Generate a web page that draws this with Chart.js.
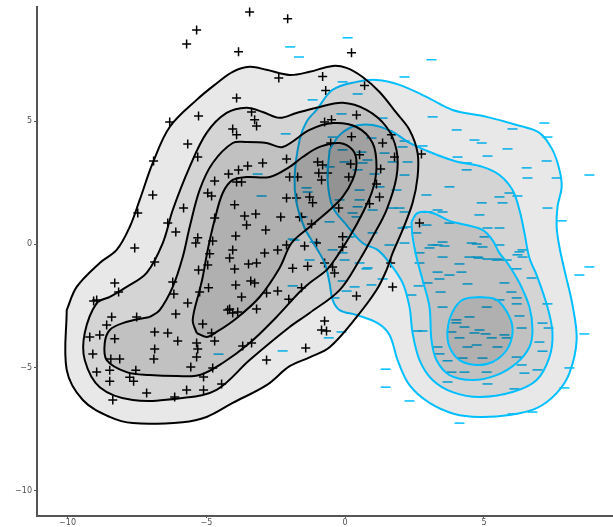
<!DOCTYPE html>
<html>
<head>
<meta charset="utf-8">
<script src="https://cdn.jsdelivr.net/npm/chart.js@4.4.1/dist/chart.umd.min.js"></script>
<style>
  html, body { margin: 0; padding: 0; background: #fff; }
  canvas { display: block; }
</style>
</head>
<body>
<canvas id="density-chart" width="613" height="527"></canvas>
<script>
// tick values
const xTicks = [-10, -5, 0, 5];
const yTicks = [-10, -5, 0, 5];

// "+" group points
const plusPoints = [
    [-3.44,9.43],[-2.07,9.15],[-5.35,8.70],[-5.71,8.13],[-3.84,7.81],[-2.39,6.75],[-3.91,5.94],[-3.37,5.37],[-3.26,5.05],[-3.19,4.80],
    [-6.32,4.96],[-5.28,5.21],[-4.05,4.68],[-3.91,4.44],[-5.67,4.07],[-5.31,3.54],[-6.90,3.38],[-2.11,3.46],[-2.97,3.30],[-3.51,3.18],
    [-3.84,3.01],[-4.20,2.85],[-3.91,2.53],[-3.73,2.53],[-4.70,2.57],[-4.95,2.08],[-4.81,1.96],[-2.00,2.73],[-1.71,2.73],[-2.11,1.88],
    [-1.75,1.88],[-6.93,2.00],[-5.82,1.47],[-3.98,1.60],[-7.47,1.27],[-4.70,1.07],[-3.62,1.15],[-3.22,1.23],[-2.32,1.11],[-1.64,1.11],
    [-3.55,0.78],[-2.86,0.58],[-6.39,0.86],[-6.10,0.50],[-5.31,0.26],[-3.94,0.34],[-4.77,0.13],[-5.38,0.05],[-7.58,-0.15],[-4.05,-0.23],
    [-4.16,-0.56],[-2.90,-0.35],[-2.43,-0.23],[-2.11,-0.03],[-1.46,-0.07],[-3.48,-0.80],[-3.19,-0.76],[-4.95,-0.84],[-4.88,-0.39],[-6.86,-0.72],
    [-1.35,-0.89],[-1.89,-0.97],
    [0.23,7.77],[-0.81,6.81],[-0.70,6.24],[0.70,6.44],[0.41,5.25],[-0.74,4.96],[-0.49,5.05],[1.67,4.44],[1.35,4.11],[-0.52,4.11],
    [0.23,4.36],[0.52,3.63],[0.20,3.26],[1.78,3.54],[1.28,3.05],[0.13,2.73],[-0.99,3.34],[-0.81,3.22],[-0.95,2.89],[-0.63,2.89],
    [-0.85,2.61],[1.13,2.45],[2.75,3.66],[1.24,1.92],[0.88,1.64],[-0.23,1.47],[-1.28,1.92],[-1.17,1.68],[-1.57,1.11],[-1.21,0.82],
    [-0.09,0.30],[-0.09,-0.11],[-1.03,0.05],[2.68,0.86],[1.64,-0.76],[-0.74,-0.76],[-0.45,-0.92],
    [-8.30,-1.57],[-8.16,-1.94],[-8.95,-2.26],[-9.06,-2.30],[-8.41,-2.95],[-7.51,-2.95],[-8.59,-3.28],[-9.20,-3.76],[-8.84,-3.68],[-8.30,-3.84],
    [-6.86,-3.56],[-6.39,-3.60],[-6.03,-3.93],[-5.35,-4.01],[-4.70,-3.93],[-6.86,-4.25],[-6.89,-4.66],[-5.31,-4.25],[-5.35,-4.58],[-9.09,-4.45],
    [-8.44,-4.66],[-8.12,-4.66],[-8.95,-5.19],[-8.48,-5.11],[-7.54,-5.11],[-7.76,-5.40],[-7.62,-5.56],[-8.48,-5.56],[-5.56,-4.98],[-5.10,-5.39],
    [-4.77,-5.02],[-7.15,-6.04],[-5.71,-5.92],[-5.10,-5.92],[-4.45,-5.67],[-8.37,-6.32],[-6.14,-6.20],[-6.10,-2.83],[-5.67,-2.38],[-6.21,-1.53],
    [-6.17,-2.02],[-5.24,-1.94],[-4.92,-1.77],[-5.28,-1.04],[-5.13,-3.24],[-4.81,-3.60],[-4.23,-2.67],[-4.05,-2.79],[-4.16,-2.63],[-3.87,-2.75],
    [-3.19,-2.63],[-3.73,-2.14],[-3.26,-1.57],[-3.40,-1.49],[-2.83,-1.98],[-2.43,-1.90],[-2.03,-2.23],[-1.57,-1.77],[-3.37,-4.01],[-3.69,-4.13],
    [-2.83,-4.70],[-1.42,-4.21],[-3.94,-1.65],[-3.98,-1.00],[-0.38,-1.17],[0.41,-2.10],[1.71,-1.73],[-0.74,-3.11],[-0.85,-3.48],[-0.67,-3.52]
];

// "-" group points
const minusPoints = [
    [-1.98,8.01],[-1.66,7.60],[0.09,8.38],[3.11,7.49],[2.14,6.79],[-0.09,6.59],[0.45,6.10],[-1.17,5.86],[-0.13,5.29],[3.15,5.17],
    [1.35,5.12],[4.02,4.64],[6.03,4.68],[7.18,4.92],[7.29,4.35],[4.66,4.23],[4.92,4.11],[2.79,3.99],[2.07,3.95],[0.95,4.31],
    [-0.45,4.35],[5.85,3.87],[4.05,3.54],[5.13,3.58],[2.25,3.34],[0.63,3.30],[4.38,3.30],[4.38,3.02],[7.26,3.38],[6.54,3.10],
    [6.57,2.69],[8.80,2.81],[7.62,2.69],[3.76,2.33],[5.92,2.08],[6.21,1.96],[5.56,1.92],[4.92,1.68],[5.67,1.68],[2.93,2.00],
    [2.97,1.31],[1.71,1.47],[0.45,1.52],[7.29,1.47],[7.80,0.95],[4.84,1.19],[3.33,1.39],[2.14,1.31],[3.76,0.86],[2.21,0.70],
    [5.13,0.66],[5.56,0.66],[5.02,0.30],[3.51,0.09],[3.15,-0.03],[4.56,0.05],[4.95,-0.11],[5.56,-0.03],[3.04,-0.15],[6.28,-0.31],
    [6.39,-0.52],[4.48,-0.52],[4.77,-0.52],[5.13,-0.60],[3.51,-0.52],[5.49,-0.60],[8.80,-0.92],[0.77,-1.00],[-0.09,-0.35],
    [2.14,4.19],[-0.09,3.83],[0.59,3.74],[1.42,3.70],[0.81,3.42],[-0.02,3.34],[1.71,3.34],[-0.56,3.14],[0.45,3.02],[1.06,2.85],
    [2.14,2.81],[-1.35,2.12],[0.52,2.20],[1.24,2.33],[1.85,2.20],[-0.20,1.80],[0.52,1.80],[0.27,1.27],[0.99,1.39],[1.96,1.47],
    [3.51,1.31],[-0.56,0.91],[0.41,1.11],[2.93,0.78],[2.07,0.66],[0.99,0.46],[0.16,0.30],[2.57,0.46],[3.33,-0.03],[2.14,0.05],
    [1.60,-0.03],[2.68,-0.35],[-0.45,-0.23],[-0.02,-0.64],[-1.10,0.09],[-1.82,0.17],[-1.28,-0.64],[0.52,-0.76],
    [-2.14,4.48],[-3.15,2.85],[-3.01,1.96],[-1.89,0.21],[-1.39,2.29],[-1.53,1.11],[-4.56,-4.46],[-2.25,-4.33],[-1.89,-1.69],
    [3.58,-0.07],[4.74,0.01],[2.68,-0.76],[4.12,-0.80],[4.81,-0.56],[5.46,-0.64],[6.39,-0.23],[6.21,-0.43],[5.82,-0.64],[3.76,-1.25],
    [4.19,-1.13],[6.18,-1.00],[6.72,-1.37],[3.40,-1.41],[4.41,-1.61],[5.74,-1.57],[2.65,-1.69],[2.97,-1.57],[3.44,-1.94],[5.99,-1.94],
    [6.18,-2.18],[2.39,-2.06],[5.10,-2.55],[6.18,-2.42],[3.51,-2.55],[5.56,-2.26],[4.48,-2.95],[4.01,-3.07],[6.28,-2.91],[7.11,-3.20],
    [7.33,-3.40],[4.01,-3.19],[4.84,-3.48],[4.66,-3.60],[5.06,-3.64],[3.83,-3.56],[4.30,-3.36],[5.74,-3.68],[5.82,-3.80],[6.36,-3.40],
    [2.61,-3.52],[2.79,-3.52],[4.12,-3.80],[5.28,-3.80],[4.74,-4.09],[4.41,-4.17],[5.49,-4.17],[3.33,-4.17],[3.40,-4.45],[7.00,-3.97],
    [4.23,-4.62],[4.95,-4.62],[6.18,-4.58],[7.11,-4.34],[3.69,-4.73],[6.36,-4.90],[6.93,-5.10],[8.08,-5.02],[4.30,-5.19],[5.10,-5.19],
    [3.83,-5.19],[6.46,-5.23],[7.90,-5.83],[3.69,-5.59],[5.13,-5.67],[6.10,-5.87],[3.33,-1.13],[8.44,-1.25],[8.62,-3.64],[1.46,-5.07],
    [1.46,-5.80],[2.32,-6.36],[6.03,-6.89],[6.75,-6.81],[4.12,-7.26],[7.29,-2.42],[0.81,-0.96],[0.34,-1.73],[0.05,-1.90],[0.95,-1.65],
    [1.35,-1.41],[-0.09,-1.49],[-0.38,-2.18],[-0.13,-3.56],[-0.59,-3.80]
];

// density contours of the "+" group, outer to inner
const plusLevel1 = [
    [-10.03,-2.67],[-9.67,-1.73],[-8.84,-0.76],[-8.23,-0.23],[-7.76,0.70],[-7.40,1.80],[-6.93,3.30],[-6.32,4.76],[-5.35,5.86],[-4.70,6.47],
    [-4.05,7.00],[-3.44,7.20],[-2.83,7.08],[-2.00,6.87],[-1.28,7.00],[-0.45,7.24],[0.05,7.16],[0.63,6.79],[1.24,6.18],[1.85,5.33],
    [2.32,4.64],[2.61,3.71],[2.61,2.73],[2.43,1.68],[2.07,0.58],[1.71,-0.36],[1.49,-1.05],[1.13,-1.86],[0.41,-2.96],[-0.56,-4.18],
    [-1.28,-4.59],[-2.00,-4.95],[-2.83,-5.72],[-4.05,-6.44],[-4.99,-7.01],[-5.85,-7.22],[-7.65,-7.26],[-8.48,-7.01],[-9.45,-6.32],[-10.03,-5.10]
];
const plusLevel2 = [
    [-8.48,-2.14],[-7.87,-1.73],[-7.15,-1.16],[-6.57,0.05],[-6.21,1.39],[-5.60,3.14],[-4.99,4.52],[-4.27,5.33],[-3.55,5.54],[-2.97,5.37],
    [-2.36,5.13],[-1.75,5.33],[-1.03,5.54],[-0.09,5.74],[0.77,5.45],[1.49,4.76],[1.85,3.83],[1.85,2.73],[1.49,1.39],[0.99,0.30],
    [0.52,-0.64],[-0.20,-1.86],[-1.28,-2.79],[-2.00,-3.36],[-3.44,-4.70],[-4.63,-5.91],[-5.85,-6.24],[-7.65,-6.32],[-8.84,-5.80],[-9.38,-4.70],
    [-9.38,-3.60],[-8.95,-2.39]
];
const plusLevel3 = [
    [-7.04,-2.95],[-6.68,-2.67],[-6.21,-1.73],[-5.85,-0.52],[-5.60,0.70],[-5.24,2.21],[-4.77,3.30],[-4.05,4.11],[-3.55,4.15],[-2.83,4.11],
    [-2.25,3.95],[-1.28,4.64],[-0.45,4.92],[0.41,4.76],[0.99,4.11],[1.13,3.14],[0.99,2.20],[0.63,1.27],[0.16,0.30],[-0.31,-0.52],
    [-0.67,-1.05],[-1.28,-1.57],[-1.64,-1.94],[-2.47,-2.95],[-3.44,-4.01],[-4.41,-4.82],[-5.24,-5.31],[-6.07,-5.35],[-7.04,-5.31],[-7.87,-5.19],
    [-8.59,-4.70],[-8.66,-4.01],[-8.48,-3.48],[-8.01,-3.20]
];
const plusLevel4 = [
    [-5.35,-3.60],[-5.49,-3.07],[-5.24,-1.86],[-5.13,-1.33],[-4.95,-0.23],[-4.70,0.99],[-4.41,2.08],[-4.05,2.61],[-3.55,2.73],[-2.72,2.73],
    [-2.00,3.14],[-1.53,3.54],[-0.92,3.95],[-0.20,4.11],[0.27,3.83],[0.41,3.30],[0.27,2.61],[-0.09,1.92],[-0.56,1.39],[-1.28,0.70],
    [-1.93,0.05],[-2.36,-0.96],[-3.08,-2.14],[-3.91,-3.00],[-4.63,-3.56],[-4.99,-3.76]
];

// density contours of the "-" group, outer to inner
const minusLevel1 = [
    [-1.03,5.45],[-0.45,6.27],[0.41,6.59],[1.13,6.67],[1.96,6.47],[2.93,5.98],[3.87,5.45],[5.10,5.17],[6.18,4.84],[7.00,4.52],
    [7.47,3.83],[7.72,3.02],[7.80,2.33],[7.65,1.52],[7.62,0.70],[7.72,-0.11],[7.90,-1.04],[8.19,-2.46],[8.34,-3.88],[8.08,-5.23],
    [7.62,-6.04],[6.90,-6.65],[5.92,-6.93],[4.84,-7.01],[3.94,-6.89],[3.04,-6.44],[2.32,-5.72],[1.89,-4.70],[1.60,-3.68],[1.17,-3.20],
    [0.41,-2.87],[-0.20,-2.67],[-0.45,-2.26],[-0.56,-1.57],[-0.74,-0.76],[-1.10,-0.03],[-1.46,0.66],[-1.75,1.68],[-1.82,2.73],[-1.64,4.23],
    [-1.39,4.97]
];
const minusLevel2 = [
    [-0.56,3.83],[-0.20,4.43],[0.34,4.80],[0.99,4.84],[1.71,4.56],[2.32,4.11],[2.86,3.83],[3.94,3.38],[4.95,3.14],[5.56,2.81],
    [6.03,2.20],[6.28,1.39],[6.46,0.46],[6.64,-0.56],[6.90,-1.25],[7.29,-2.55],[7.47,-3.60],[7.36,-4.58],[6.90,-5.51],[6.03,-6.00],
    [4.84,-6.20],[3.87,-6.00],[3.15,-5.51],[2.68,-4.70],[2.43,-3.60],[2.32,-2.55],[2.07,-1.57],[1.60,-0.76],[1.17,-0.23],[0.63,0.05],
    [0.05,0.78],[-0.45,1.52],[-0.63,2.61]
];
const minusLevel3 = [
    [2.39,0.91],[2.61,1.27],[3.15,1.27],[3.76,0.95],[4.38,0.78],[4.95,0.58],[5.31,0.17],[5.56,-0.36],[5.82,-0.72],[6.28,-1.57],
    [6.64,-2.55],[6.75,-3.48],[6.64,-4.17],[6.18,-4.82],[5.46,-5.31],[4.59,-5.51],[3.76,-5.31],[3.29,-4.70],[3.11,-3.89],[3.04,-2.55],
    [2.79,-1.45],[2.57,-0.52],[2.43,0.30]
];
const minusLevel4 = [
    [4.84,-2.14],[5.46,-2.26],[5.92,-2.95],[6.03,-3.60],[5.82,-4.29],[5.31,-4.78],[4.74,-4.90],[4.12,-4.70],[3.76,-4.17],[3.69,-3.48],
    [3.87,-2.75],[4.23,-2.26]
];

const blackLine = '#000000';
const blueLine = '#00BFFF';
const levelFill = 'rgba(0, 0, 0, 0.09)';

function toXY(list) {
    return list.map(p => ({ x: p[0], y: p[1] }));
}

function closedShape(list) {
    const pts = toXY(list);
    pts.push({ x: list[0][0], y: list[0][1] });
    return pts;
}

function contourDataset(list, color, order) {
    return {
        data: closedShape(list),
        showLine: true,
        fill: 'shape',
        backgroundColor: levelFill,
        borderColor: color,
        borderWidth: 2,
        pointRadius: 0,
        tension: 0.35,
        order: order
    };
}

function minusLabel(v) {
    return v < 0 ? '\u2212' + Math.abs(v) : String(v);
}

const datasets = [
    // points sit underneath the shaded polygons
    {
        data: toXY(minusPoints),
        pointStyle: 'line',
        pointRadius: 5,
        borderColor: blueLine,
        backgroundColor: blueLine,
        pointBorderWidth: 1.5,
        order: 20
    },
    {
        data: toXY(plusPoints),
        pointStyle: 'cross',
        pointRadius: 4.5,
        borderColor: '#000',
        backgroundColor: '#000',
        pointBorderWidth: 1.5,
        order: 19
    },
    contourDataset(minusLevel1, blueLine, 12),
    contourDataset(minusLevel2, blueLine, 11),
    contourDataset(minusLevel3, blueLine, 10),
    contourDataset(minusLevel4, blueLine, 9),
    contourDataset(plusLevel1, blackLine, 4),
    contourDataset(plusLevel2, blackLine, 3),
    contourDataset(plusLevel3, blackLine, 2),
    contourDataset(plusLevel4, blackLine, 1)
];

const tickFont = { family: 'DejaVu Sans', size: 8 };

new Chart(document.getElementById('density-chart'), {
    type: 'scatter',
    data: { datasets: datasets },
    options: {
        responsive: false,
        animation: false,
        events: [],
        devicePixelRatio: 1,
        layout: { autoPadding: false, padding: { top: 7, right: 0, bottom: 0, left: 0 } },
        plugins: {
            legend: { display: false },
            tooltip: { enabled: false }
        },
        scales: {
            x: {
                type: 'linear',
                min: -11.1,
                max: 9.65,
                afterBuildTicks: scale => { scale.ticks = xTicks.map(v => ({ value: v })); },
                afterFit: scale => { scale.height = 11; },
                grid: { drawOnChartArea: false, drawTicks: true, tickLength: 2, color: '#555' },
                border: { display: true, color: '#555', width: 2 },
                ticks: { font: tickFont, color: '#4d4d4d', padding: 0, maxRotation: 0, callback: minusLabel }
            },
            y: {
                type: 'linear',
                min: -11.03,
                max: 9.63,
                afterBuildTicks: scale => { scale.ticks = yTicks.map(v => ({ value: v })); },
                afterFit: scale => { scale.width = 37; },
                grid: { drawOnChartArea: false, drawTicks: true, tickLength: 3, color: '#555' },
                border: { display: true, color: '#555', width: 2 },
                ticks: { font: tickFont, color: '#4d4d4d', padding: 2, callback: minusLabel }
            }
        }
    }
});
</script>
</body>
</html>
